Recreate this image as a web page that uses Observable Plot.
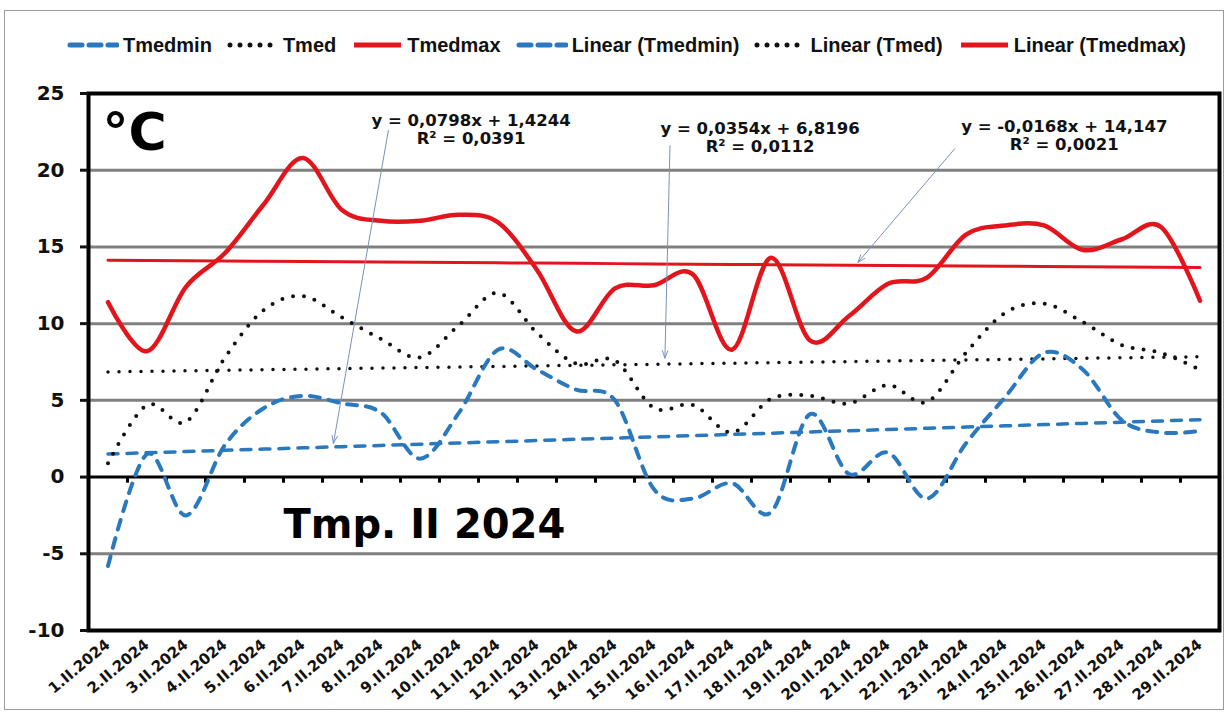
<!DOCTYPE html>
<html>
<head>
<meta charset="utf-8">
<script src="https://cdn.jsdelivr.net/npm/d3@7"></script>
<script src="https://cdn.jsdelivr.net/npm/@observablehq/plot@0.6"></script>
<style>
  html, body { margin: 0; padding: 0; background: #fff; }
  #wrap { position: relative; width: 1229px; height: 713px; overflow: hidden; background: #fff; }
  #border { position: absolute; left: 4px; top: 10px; width: 1220px; height: 700px; border: 1px solid #9a9a9a; box-sizing: border-box; pointer-events: none; }
  #legend { height: 24px; margin-top: 33px; margin-bottom: 13px; padding-left: 67px; display: flex; align-items: center;
            font-family: "Liberation Sans", Arial, sans-serif; font-weight: bold; font-size: 20px; color: #111; white-space: nowrap; }
  .item { display: flex; align-items: center; margin-right: 15px; }
  .item svg { margin-right: 4px; }
</style>
</head>
<body>
<div id="wrap">
  <div id="legend"></div>
  <div id="chart"></div>
  <div id="border"></div>
</div>
<script>
// ---- data ----
const dayLabels = ["1.II.2024","2.II.2024","3.II.2024","4.II.2024","5.II.2024","6.II.2024","7.II.2024","8.II.2024","9.II.2024","10.II.2024",
  "11.II.2024","12.II.2024","13.II.2024","14.II.2024","15.II.2024","16.II.2024","17.II.2024","18.II.2024","19.II.2024","20.II.2024",
  "21.II.2024","22.II.2024","23.II.2024","24.II.2024","25.II.2024","26.II.2024","27.II.2024","28.II.2024","29.II.2024"];
const tmedmin = [-5.8, 1.5, -2.5, 2.1, 4.5, 5.3, 4.8, 4.2, 1.2, 4.2, 8.3, 7.0, 5.7, 5.0, -0.8, -1.4, -0.4, -2.3, 4.1, 0.2, 1.6, -1.4, 2.2, 5.2, 8.1, 7.0, 3.7, 2.9, 3.0];
const tmed    = [0.9, 4.7, 3.6, 7.8, 10.9, 11.8, 10.4, 9.0, 7.8, 9.9, 12.0, 9.4, 7.4, 7.6, 4.5, 4.7, 2.9, 5.1, 5.3, 4.8, 6.0, 4.9, 8.1, 10.7, 11.3, 10.1, 8.6, 8.1, 7.0];
const tmedmax = [11.4, 8.2, 12.4, 14.6, 17.8, 20.8, 17.4, 16.7, 16.7, 17.1, 16.6, 13.5, 9.5, 12.3, 12.5, 13.2, 8.3, 14.3, 8.9, 10.5, 12.6, 13.0, 15.8, 16.4, 16.4, 14.8, 15.5, 16.3, 11.5];
const seriesNames = ["Tmedmin", "Tmed", "Tmedmax"];
const trendSlopes = [0.0798, 0.0354, -0.0168];
const trendIntercepts = [1.4244, 6.8196, 14.147];
const trendLabels = ["y = 0,0798x + 1,4244\nR² = 0,0391", "y = 0,0354x + 6,8196\nR² = 0,0112", "y = -0,0168x + 14,147\nR² = 0,0021"];
const yTicks = [-10, -5, 0, 5, 10, 15, 20, 25];
const gridValues = [-5, 5, 10, 15, 20];

// annotation anchors in data units (day, °C)
const eqX = [10.31, 17.72, 25.52];
const eqY = [23.7, 23.2, 23.3];
const arrowX1 = [8.19, 15.41, 22.71], arrowY1 = [22.6, 21.6, 21.4];
const arrowX2 = [6.78, 15.28, 20.23], arrowY2 = [2.2, 7.75, 14.0];

const BLUE = "#2a78bd", RED = "#e3151c", BLACK = "#111";
const colors = [BLUE, BLACK, RED];
const dashes = ["10 9", "0 11", null];
const widths = [4, 4, 4.5];

// ---- tables ----
const days = dayLabels.map((_, i) => i + 1);
const seriesValues = [tmedmin, tmed, tmedmax];
const rows = s => days.map((d, i) => ({day: d, v: seriesValues[s][i]}));
const trendRows = s => days.map(d => ({day: d, v: trendSlopes[s] * d + trendIntercepts[s]}));
const boundaries = days.slice(0, -1).map(d => d + 0.5);

// ---- legend ----
const legend = document.getElementById("legend");
function swatch(s) {
  const svg = d3.create("svg").attr("width", 52).attr("height", 10);
  svg.append("line").attr("x1", 3).attr("x2", 50).attr("y1", 5).attr("y2", 5)
    .attr("stroke", colors[s]).attr("stroke-width", s === 2 ? 5 : 5)
    .attr("stroke-linecap", s === 2 ? "butt" : "round")
    .attr("stroke-dasharray", s === 0 ? "12 7" : s === 1 ? "0 10" : null);
  return svg.node();
}
const legendNames = [...seriesNames, ...seriesNames.map(n => "Linear (" + n + ")")];
legendNames.forEach((name, k) => {
  const it = document.createElement("div");
  it.className = "item";
  it.appendChild(swatch(k % 3));
  const t = document.createElement("span");
  t.textContent = name;
  it.appendChild(t);
  legend.appendChild(it);
});

// ---- chart ----
const lineMarks = [];
[0, 1, 2].forEach(s => {
  lineMarks.push(Plot.line(trendRows(s), {x: "day", y: "v", stroke: colors[s], strokeWidth: s === 2 ? 3 : 3.5,
    strokeDasharray: dashes[s], strokeLinecap: "round"}));
});
[0, 1, 2].forEach(s => {
  lineMarks.push(Plot.line(rows(s), {x: "day", y: "v", curve: "cardinal", stroke: colors[s], strokeWidth: widths[s],
    strokeDasharray: dashes[s], strokeLinecap: "round", strokeLinejoin: "round"}));
});

const eqRows = trendLabels.map((t, i) => ({x: eqX[i], y: eqY[i], t}));
const arrowRows = arrowX1.map((x, i) => ({x1: x, y1: arrowY1[i], x2: arrowX2[i], y2: arrowY2[i]}));

const chart = Plot.plot({
  width: 1229,
  height: 643,
  marginTop: 23,
  marginBottom: 83,
  marginLeft: 88,
  marginRight: 10,
  style: {fontFamily: "'DejaVu Sans', sans-serif", color: "#111", background: "transparent", overflow: "visible"},
  x: {domain: [0.5, 29.5]},
  y: {domain: [-10, 25]},
  marks: [
    Plot.ruleY(gridValues, {stroke: "#808080", strokeWidth: 3}),
    Plot.ruleY([0], {stroke: "#000", strokeWidth: 3}),
    Plot.ruleX(boundaries, {y1: 0, y2: -0.4, stroke: "#000", strokeWidth: 3}),
    ...lineMarks,
    Plot.arrow(arrowRows, {x1: "x1", y1: "y1", x2: "x2", y2: "y2", stroke: "#7a90b8", strokeWidth: 1, headLength: 12, headAngle: 40}),
    Plot.text(eqRows, {x: "x", y: "y", text: "t", fontSize: 16.5, fontWeight: "bold", lineAnchor: "top", lineHeight: 1.08, textAnchor: "middle", fill: "#111"}),
    Plot.text(["°C"], {x: 0.86, y: 21.3, fontSize: 52, fontWeight: "bold", textAnchor: "start", lineAnchor: "bottom", fill: "#000"}),
    Plot.text(["Tmp. II 2024"], {x: 5.5, y: -3.97, fontSize: 40, fontWeight: "bold", textAnchor: "start", lineAnchor: "bottom", fill: "#000"}),
    Plot.frame({stroke: "#000", strokeWidth: 4}),
    Plot.axisY({ticks: yTicks, tickSize: 8, tickPadding: 16, fontSize: 20, fontWeight: "bold", strokeWidth: 3, tickFormat: d => String(d)}),
    Plot.axisX({ticks: days, tickSize: 0, tickPadding: 12, tickRotate: -40, fontSize: 15, fontWeight: "bold", tickFormat: d => dayLabels[d - 1]})
  ]
});
document.getElementById("chart").appendChild(chart);
</script>
</body>
</html>
